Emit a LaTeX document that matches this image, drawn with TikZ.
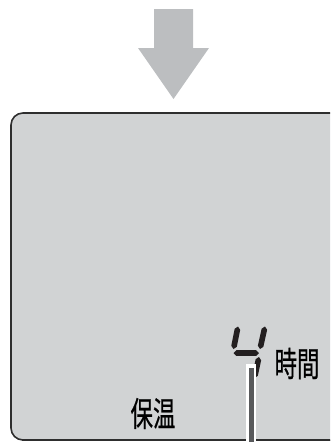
\documentclass[tikz,border=0pt]{standalone}
\usepackage{fontspec}
\newfontfamily\jp[FakeBold=0.6]{Noto Sans CJK JP}
\usetikzlibrary{calc}
\definecolor{boxfill}{HTML}{D1D3D4}
\definecolor{boxline}{HTML}{2E2E2E}
\definecolor{arrowcol}{HTML}{BCBEC0}
\definecolor{segcol}{HTML}{231F20}
\definecolor{barcol}{HTML}{58595B}
\newcommand\segm[3]{%
 \coordinate (s1) at ($(#1)!#3!(#2)$);
 \coordinate (s2) at ($(#2)!#3!(#1)$);
 \fill[segcol] (#1) -- ($(s1)!#3!90:(#2)$) -- ($(s2)!#3!-90:(#1)$) -- (#2) -- ($(s2)!#3!90:(#1)$) -- ($(s1)!#3!-90:(#2)$) -- cycle;}
\tikzset{
  lbl/.style={inner sep=0pt, font=\jp\fontsize{34}{34}\selectfont},
}
\begin{document}
\begin{tikzpicture}[x=1pt,y=-1pt]
\useasboundingbox (0,0) rectangle (330,442);
\clip (0,0) rectangle (330,442);
% arrow
\fill[arrowcol] (154,9) -- (193,9) -- (193,48) -- (209,48) -- (173.5,99) -- (138,48) -- (154,48) -- cycle;
% display box
\draw[fill=boxfill, draw=boxline, line width=1.6pt, rounded corners=12pt] (11,113) rectangle (345,440);
\draw[boxline, line width=1pt] (22,440.8) -- (345,440.8);
% digit 4
\coordinate (ula) at (238,326.5); \coordinate (ulb) at (233.5,349);
\coordinate (ura) at (265,326.5); \coordinate (urb) at (260,349);
\coordinate (mda) at (233.5,353); \coordinate (mdb) at (259,353);
\coordinate (lra) at (259,357); \coordinate (lrb) at (254.5,378);
\segm{ula}{ulb}{2.8pt}
\segm{ura}{urb}{2.8pt}
\segm{mda}{mdb}{2.8pt}
\segm{lra}{lrb}{2.8pt}
% pointer
\fill[white] (245.5,364) rectangle (256,445);
\fill[barcol] (249,368) rectangle (253.5,445);
% labels
\node[lbl] (hours) at (297,363.5) {\scalebox{0.66}[1]{時間}};
\node[lbl] (keep) at (153,413.5) {\scalebox{0.66}[1]{保温}};
\end{tikzpicture}
\end{document}
